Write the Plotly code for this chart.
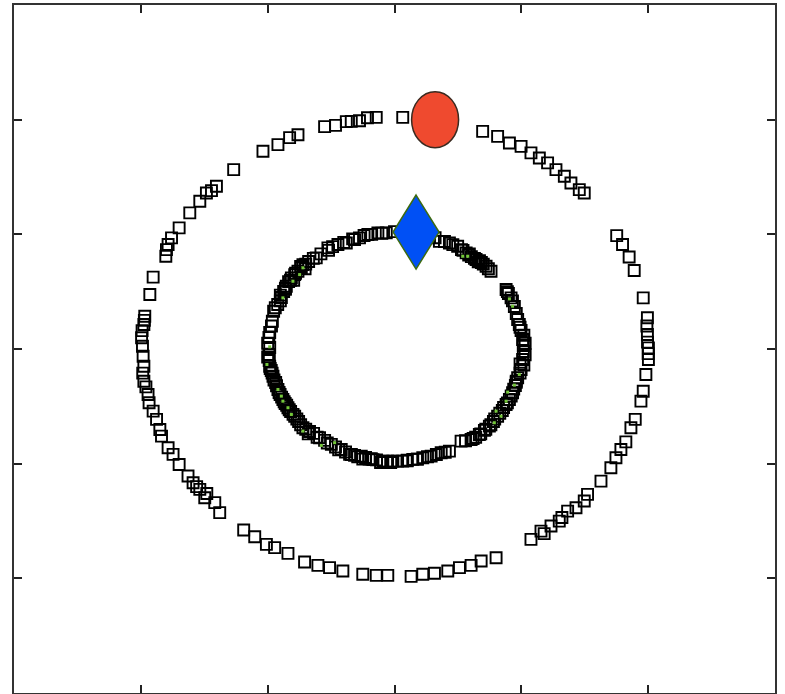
import plotly.graph_objects as go

# Outer ring points (data units)
outer_x = [0.065, -0.144, -0.213, -0.276, -0.341, -0.380, -0.465, -0.551, -0.761, -0.827,
           -0.919, -1.037, -1.268, -1.404, -1.443, -1.483, -1.535, -1.614, -1.698, -1.758,
           -1.785, -1.798, -1.803, -1.903, -1.929, -1.969, -1.976, -1.994, -1.987, -1.982,
           -1.976, -1.976, -1.943, -1.935, -1.903, -1.876, -1.850, -1.837, -1.785, -1.746,
           -1.698, -1.628, -1.588, -1.535, -1.496, -1.417, -1.378, -1.189, -1.102, -1.010,
           -0.945, -0.840, -0.709, -0.604, -0.512, -0.407, -0.250, -0.144, -0.053, 0.131,
           0.223, 0.315, 0.420, 0.512, 0.604, 0.683, 0.801, 1.076, 1.155, 1.234,
           1.299, 1.365, 1.431, 1.496, 1.522, 1.628, 1.706, 1.746, 1.785, 1.824,
           1.864, 1.898, 1.943, 1.961, 1.982, 2.002, 2.002, 1.994, 1.994, 1.961,
           1.890, 1.850, 1.798, 1.752, 1.496, 1.457, 1.391, 1.339, 1.273, 1.207,
           1.142, 1.076, 0.998, 0.906, 0.813, 0.695,
           -1.990, -1.985, -1.972, -1.960, 1.995, 2.000, 1.990, -1.480, -1.560, 1.180, 1.320]
outer_y = [2.020, 2.020, 2.017, 1.991, 1.985, 1.983, 1.950, 1.939, 1.869, 1.843,
           1.782, 1.724, 1.564, 1.419, 1.381, 1.361, 1.288, 1.187, 1.056, 0.969,
           0.911, 0.867, 0.809, 0.627, 0.475, 0.286, 0.214, 0.098, 0.024, -0.063,
           -0.150, -0.281, -0.397, -0.469, -0.542, -0.614, -0.702, -0.760, -0.861, -0.919,
           -1.007, -1.108, -1.166, -1.224, -1.297, -1.340, -1.427, -1.579, -1.637, -1.704,
           -1.732, -1.782, -1.858, -1.887, -1.907, -1.936, -1.965, -1.974, -1.974, -1.983,
           -1.965, -1.956, -1.936, -1.907, -1.887, -1.849, -1.820, -1.660, -1.588, -1.544,
           -1.501, -1.414, -1.384, -1.326, -1.268, -1.152, -1.035, -0.948, -0.876, -0.810,
           -0.687, -0.614, -0.455, -0.368, -0.222, -0.092, 0.010, 0.126, 0.272, 0.446,
           0.684, 0.802, 0.911, 0.989, 1.361, 1.390, 1.448, 1.506, 1.564, 1.623,
           1.666, 1.710, 1.767, 1.797, 1.854, 1.898,
           0.160, -0.210, 0.250, -0.330, 0.060, -0.040, 0.200, -1.260, -1.200, -1.610, -1.470]

# Inner ring points (data units)
inner_x = [-0.984, -0.984, -0.963, -0.953, -0.921, -0.892, -0.874, -0.853, -0.835, -0.813,
           -0.787, -0.761, -0.735, -0.722, -0.677, -0.617, -0.525, -0.488, -0.446, -0.380,
           -0.315, -0.276, -0.210, -0.131, -0.065, 0.000, 0.276, 0.354, 0.394, 0.433,
           0.498, 0.528, 0.565, 0.606, 0.643, 0.685, 0.722, 0.761, 0.880, 0.898,
           0.919, 0.945, 0.971, 0.984, 0.998, 1.010, 1.016, 1.016, 1.010, 0.998,
           0.971, 0.953, 0.931, 0.906, 0.880, 0.850, 0.813, 0.780, 0.748, 0.709,
           0.669, 0.604, 0.525, 0.433, 0.368, 0.289, 0.223, 0.144, 0.065, 0.024,
           -0.013, -0.055, -0.092, -0.142, -0.183, -0.228, -0.262, -0.315, -0.354, -0.386,
           -0.420, -0.465, -0.498, -0.551, -0.591, -0.638, -0.722, -0.756, -0.787, -0.819,
           -0.840, -0.862, -0.880, -0.902, -0.919, -0.937, -0.958, -0.972, -0.984, -0.988,
           -0.990, -0.900, -0.860, -0.795, -0.705, 0.585, 0.660, 0.990, 0.960, 0.620,
           -0.680, -0.250, 0.100, 0.180, -0.170,
           -0.97, -0.94, -0.90, -0.86, -0.82, -0.78, -0.74, -0.70, -0.64, -0.58,
           -0.52, -0.40, -0.33, -0.24, -0.18, -0.10,
           0.32, 0.46, 0.54, 0.59, 0.63, 0.67, 0.70, 0.74, 0.89, 0.93,
           0.96, 0.99, 1.02, 1.03, 1.03, 1.02,
           0.99, 0.96, 0.94, 0.92, 0.89, 0.86, 0.83, 0.79, 0.76, 0.72,
           0.68, 0.64, 0.56,
           0.40, 0.33, 0.26, 0.18, 0.10, -0.03, -0.11, -0.20, -0.29, -0.34,
           -0.44, -0.53, -0.61, -0.67,
           -0.70, -0.74, -0.77, -0.80, -0.83, -0.85, -0.87, -0.89, -0.91, -0.93,
           -0.95, -0.965, -0.98, -1.00, -1.00, -0.99]
inner_y = [0.013, 0.144, 0.242, 0.329, 0.388, 0.449, 0.501, 0.547, 0.588, 0.620,
           0.649, 0.678, 0.708, 0.736, 0.763, 0.795, 0.882, 0.893, 0.911, 0.925,
           0.954, 0.969, 0.998, 1.013, 1.013, 1.024, 0.972, 0.939, 0.937, 0.925,
           0.896, 0.867, 0.838, 0.806, 0.780, 0.754, 0.722, 0.678, 0.519, 0.484,
           0.446, 0.370, 0.257, 0.214, 0.161, 0.083, 0.031, -0.022, -0.092, -0.179,
           -0.251, -0.318, -0.382, -0.440, -0.484, -0.536, -0.586, -0.632, -0.673, -0.710,
           -0.745, -0.789, -0.803, -0.891, -0.905, -0.934, -0.948, -0.963, -0.978, -0.978,
           -0.978, -0.978, -0.978, -0.967, -0.957, -0.946, -0.934, -0.928, -0.919, -0.898,
           -0.876, -0.854, -0.832, -0.797, -0.774, -0.736, -0.687, -0.632, -0.586, -0.545,
           -0.512, -0.475, -0.440, -0.397, -0.353, -0.292, -0.237, -0.187, -0.150, -0.100,
           -0.048, 0.420, 0.520, 0.600, 0.700, 0.820, 0.760, -0.130, -0.280, -0.780,
           -0.740, -0.960, -0.975, -0.960, -0.965,
           0.20, 0.36, 0.47, 0.53, 0.60, 0.66, 0.72, 0.74, 0.79, 0.83,
           0.86, 0.93, 0.96, 0.99, 1.00, 1.01,
           0.97, 0.91, 0.86, 0.83, 0.79, 0.77, 0.74, 0.70, 0.50, 0.42,
           0.31, 0.19, 0.12, 0.05, -0.05, -0.14,
           -0.21, -0.29, -0.35, -0.41, -0.47, -0.51, -0.56, -0.61, -0.66, -0.70,
           -0.74, -0.77, -0.80,
           -0.90, -0.92, -0.94, -0.96, -0.97, -0.99, -0.99, -0.96, -0.94, -0.92,
           -0.88, -0.82, -0.77, -0.72,
           -0.70, -0.66, -0.61, -0.57, -0.53, -0.49, -0.46, -0.42, -0.38, -0.32,
           -0.27, -0.21, -0.17, -0.07, 0.05, 0.10]

# Small green points on the inner ring
green_x = [-0.984, -1.006, -0.919, -0.892, -0.880, -0.840, -0.813, -0.722, -0.577, -0.472,
           0.984, 0.945, 0.892, 0.880, 0.801, 0.840, 0.787, -0.722, -0.748, -0.801,
           -0.880, 0.538, 0.577, 0.931, 0.906]
green_y = [0.019, -0.135, -0.353, -0.411, -0.455, -0.512, -0.571, -0.716, -0.841, -0.817,
           -0.222, -0.315, -0.376, -0.455, -0.542, -0.586, -0.643, 0.708, 0.649, 0.591,
           0.446, 0.809, 0.809, 0.373, 0.437]

# Highlighted points
red_x = [0.32]
red_y = [2.0]
blue_x = [0.17]
blue_y = [1.02]

tick_vals = [-2, -1, 0, 1, 2]

fig = go.Figure()
fig.add_trace(go.Scatter(x=outer_x + inner_x, y=outer_y + inner_y, mode="markers",
                         marker=dict(symbol="square", size=11, color="rgba(0,0,0,0)",
                                     line=dict(color="black", width=1.9)),
                         showlegend=False))
fig.add_trace(go.Scatter(x=green_x, y=green_y, mode="markers",
                         marker=dict(symbol="square", size=3, color="#74c83a", line=dict(width=0)),
                         showlegend=False, hoverinfo="skip"))

# Red ellipse and blue diamond anchored at their data points
fig.add_shape(type="circle", xref="x", yref="y", xsizemode="pixel", ysizemode="pixel",
              xanchor=red_x[0], yanchor=red_y[0], x0=-23.5, x1=23.5, y0=-28, y1=28,
              fillcolor="#ef4a2f", line=dict(color="#3a2a20", width=1.5), layer="above")
fig.add_shape(type="path", xref="x", yref="y", xsizemode="pixel", ysizemode="pixel",
              xanchor=blue_x[0], yanchor=blue_y[0],
              path="M0,37 L23,0 L0,-37 L-23,0 Z",
              fillcolor="#0050f5", line=dict(color="#3d6b10", width=1.5), layer="above")

axis_common = dict(range=[-3, 3], tickvals=tick_vals, showticklabels=False,
                   ticks="inside", ticklen=8, tickwidth=1.8, tickcolor="#222222",
                   showline=True, linecolor="#333333", linewidth=1.8, mirror="ticks",
                   showgrid=False, zeroline=False)
fig.update_xaxes(**axis_common)
fig.update_yaxes(**axis_common)
fig.update_layout(width=785, height=694, margin=dict(l=14, r=10, t=5, b=1),
                  paper_bgcolor="white", plot_bgcolor="white")
fig.write_html("out.html")
